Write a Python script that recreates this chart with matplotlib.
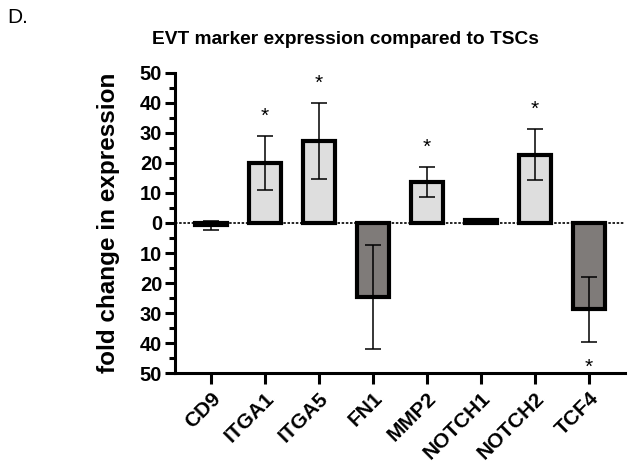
import numpy as np
import matplotlib
matplotlib.use("Agg")
import matplotlib.pyplot as plt
from matplotlib.ticker import MultipleLocator, FuncFormatter

plt.rcParams['font.family'] = ['Liberation Sans', 'DejaVu Sans']

# values
genes = ["CD9", "ITGA1", "ITGA5", "FN1", "MMP2", "NOTCH1", "NOTCH2", "TCF4"]
fold_change = [-0.7, 20.0, 27.3, -24.5, 13.7, 1.0, 22.8, -28.8]
errors = [1.5, 9.0, 12.8, 17.3, 5.0, 0.4, 8.5, 10.7]
significant = [False, True, True, False, True, False, True, True]

light = "#dedede"
dark = "#7f7b79"

fig = plt.figure(figsize=(6.4, 4.67), dpi=100)
ax = fig.add_axes([0.273, 0.201, 0.704, 0.643])

x = np.arange(len(genes))
colors = [light if v >= 0 else dark for v in fold_change]
ax.bar(x, fold_change, width=0.6, color=colors, edgecolor="black",
       linewidth=3.0, zorder=2)
ax.errorbar(x, fold_change, yerr=errors, fmt="none", ecolor="black",
            elinewidth=1.1, capsize=5.5, capthick=1.1, zorder=3)

# zero line
ax.axhline(0, color="black", lw=1.2, ls=(0, (1.5, 1.0)), zorder=4)

# significance stars
for xi, v, e, s in zip(x, fold_change, errors, significant):
    if not s:
        continue
    if v >= 0:
        ax.text(xi, v + e + 6.5, "*", ha="center", va="center", fontsize=15)
    else:
        ax.text(xi, v - e - 8.5, "*", ha="center", va="center", fontsize=15)

ax.set_xlim(-0.67, len(genes) - 0.33)
ax.set_ylim(-50, 50)
ax.yaxis.set_major_locator(MultipleLocator(10))
ax.yaxis.set_minor_locator(MultipleLocator(5))
ax.yaxis.set_major_formatter(FuncFormatter(lambda v, p: f"{abs(v):.0f}"))

ax.set_xticks(x)
ax.set_xticklabels(genes, rotation=45, ha="right", rotation_mode="anchor",
                   fontsize=15, fontweight="bold")
for lab in ax.get_yticklabels():
    lab.set_fontweight("bold")
    lab.set_fontsize(14.5)

ax.spines["top"].set_visible(False)
ax.spines["right"].set_visible(False)
ax.spines["left"].set_linewidth(2.2)
ax.spines["bottom"].set_linewidth(2.2)
ax.tick_params(axis="y", which="major", length=7, width=2.2, pad=2)
ax.tick_params(axis="y", which="minor", length=4.5, width=2.2)
ax.tick_params(axis="x", which="major", length=8, width=2.2, pad=3)

ax.set_ylabel("fold change in expression", fontsize=17.5, fontweight="bold",
              labelpad=14)
fig.text(0.539, 0.916, "EVT marker expression compared to TSCs",
         ha="center", va="center", fontsize=13.8, fontweight="bold")
fig.text(0.012, 0.963, "D.", ha="left", va="center", fontsize=15)

fig.savefig("out.png", dpi=100)
